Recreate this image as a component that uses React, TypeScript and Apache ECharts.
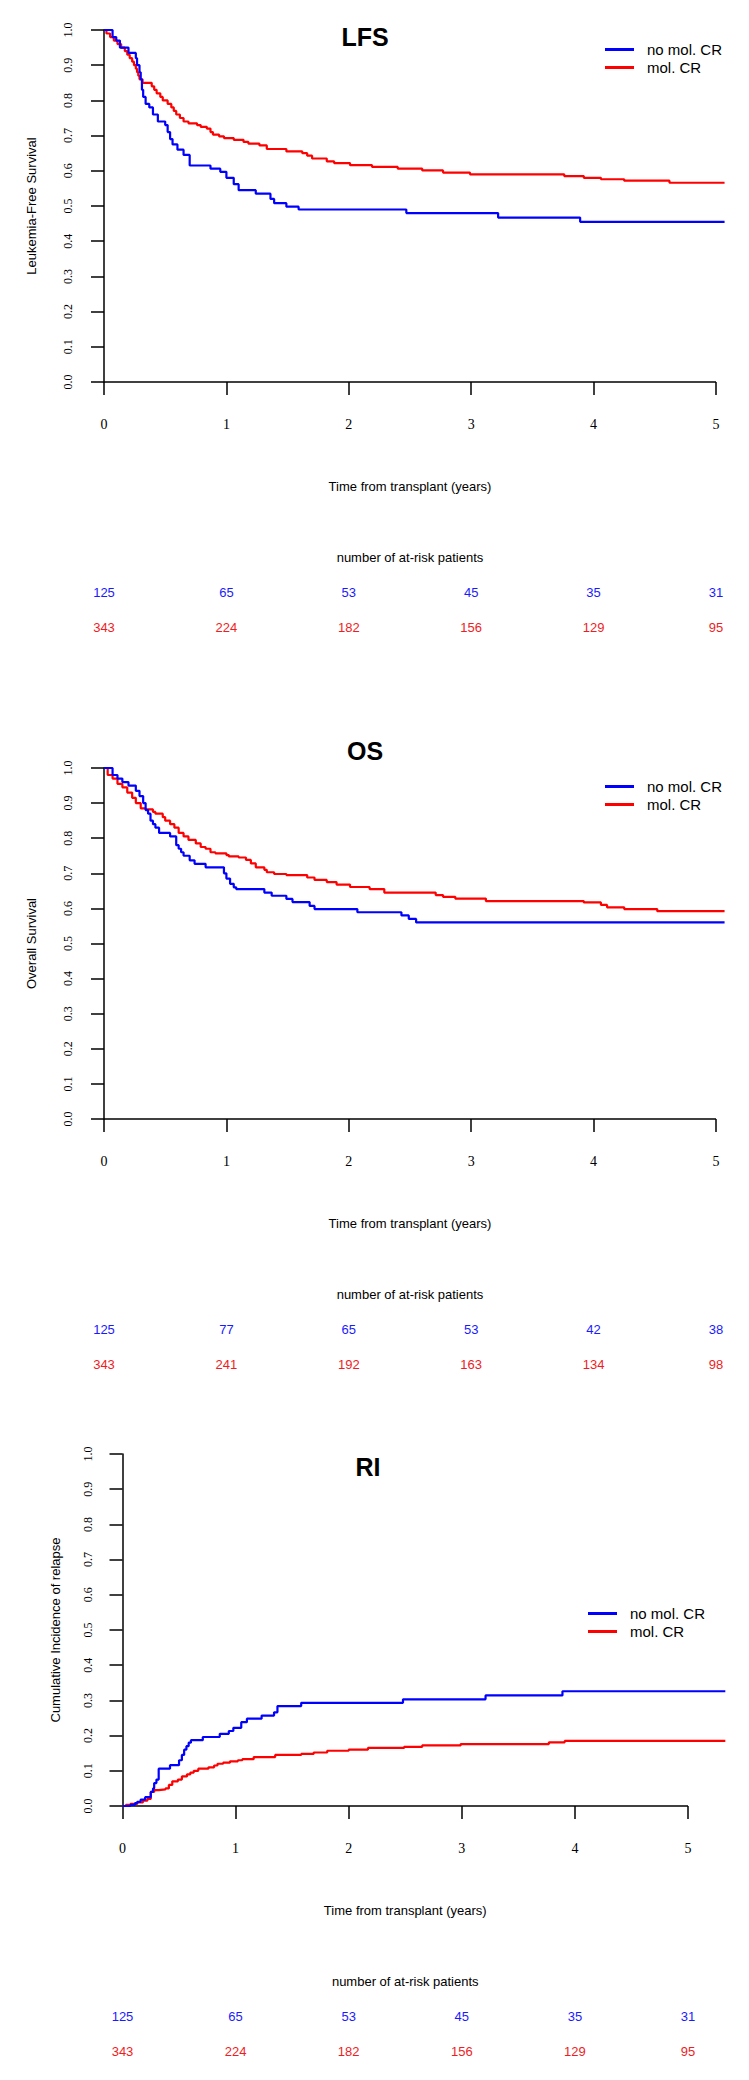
import React, { useEffect, useRef } from "react";
import * as echarts from "echarts";

// ---------- data ----------
const years = [0, 1, 2, 3, 4, 5];
const seriesNames = ["no mol. CR", "mol. CR"];
const panelTitles = ["LFS", "OS", "RI"];
const yTitles = ["Leukemia-Free Survival", "Overall Survival", "Cumulative Incidence of relapse"];
const xTitle = "Time from transplant (years)";
const riskTitle = "number of at-risk patients";
const followUpEnd = [5.07, 5.07, 5.33];

const lfsNoMol = [[0,1],[0.07,0.98],[0.1,0.97],[0.13,0.95],[0.2,0.935],[0.26,0.92],[0.27,0.9],[0.29,0.88],[0.3,0.86],[0.31,0.83],[0.32,0.81],[0.34,0.79],[0.37,0.78],[0.4,0.76],[0.44,0.74],[0.5,0.73],[0.52,0.71],[0.54,0.69],[0.56,0.675],[0.6,0.66],[0.65,0.645],[0.7,0.615],[0.87,0.606],[0.95,0.597],[1.0,0.58],[1.06,0.562],[1.1,0.545],[1.24,0.535],[1.36,0.52],[1.39,0.508],[1.49,0.498],[1.59,0.49],[2.47,0.48],[3.22,0.467],[3.89,0.455],[5.07,0.455]];
const lfsMol = [[0,1],[0.02,0.99],[0.05,0.98],[0.08,0.97],[0.11,0.96],[0.14,0.95],[0.17,0.94],[0.19,0.93],[0.21,0.92],[0.23,0.91],[0.245,0.9],[0.26,0.89],[0.27,0.88],[0.28,0.87],[0.29,0.86],[0.315,0.85],[0.39,0.84],[0.41,0.83],[0.43,0.82],[0.46,0.81],[0.48,0.8],[0.52,0.79],[0.55,0.78],[0.57,0.77],[0.59,0.76],[0.62,0.75],[0.65,0.74],[0.69,0.735],[0.76,0.73],[0.79,0.725],[0.84,0.72],[0.87,0.71],[0.89,0.703],[0.94,0.698],[0.98,0.693],[1.06,0.688],[1.14,0.682],[1.18,0.677],[1.27,0.672],[1.33,0.662],[1.49,0.655],[1.62,0.65],[1.66,0.643],[1.7,0.635],[1.82,0.627],[1.88,0.622],[2.01,0.616],[2.19,0.611],[2.4,0.606],[2.6,0.601],[2.77,0.595],[2.99,0.59],[3.76,0.585],[3.92,0.58],[4.06,0.576],[4.25,0.572],[4.62,0.566],[5.07,0.566]];

const osNoMol = [[0,1],[0.07,0.98],[0.11,0.97],[0.15,0.96],[0.2,0.95],[0.26,0.935],[0.29,0.92],[0.32,0.9],[0.34,0.88],[0.36,0.87],[0.38,0.85],[0.4,0.84],[0.42,0.83],[0.45,0.815],[0.54,0.805],[0.59,0.78],[0.61,0.77],[0.63,0.76],[0.65,0.75],[0.7,0.737],[0.74,0.727],[0.83,0.717],[0.98,0.7],[1.0,0.685],[1.03,0.67],[1.06,0.66],[1.08,0.655],[1.31,0.645],[1.37,0.636],[1.49,0.627],[1.54,0.618],[1.68,0.607],[1.72,0.598],[2.07,0.589],[2.43,0.58],[2.49,0.57],[2.55,0.56],[5.07,0.56]];
const osMol = [[0,1],[0.03,0.98],[0.07,0.97],[0.11,0.955],[0.15,0.945],[0.19,0.93],[0.23,0.915],[0.26,0.9],[0.3,0.885],[0.34,0.882],[0.4,0.875],[0.42,0.87],[0.48,0.86],[0.5,0.85],[0.54,0.84],[0.575,0.83],[0.61,0.815],[0.65,0.805],[0.69,0.795],[0.75,0.785],[0.79,0.775],[0.83,0.77],[0.87,0.76],[0.91,0.757],[1.0,0.752],[1.02,0.748],[1.1,0.745],[1.16,0.738],[1.2,0.728],[1.24,0.717],[1.31,0.71],[1.33,0.703],[1.39,0.698],[1.49,0.695],[1.66,0.688],[1.72,0.681],[1.82,0.675],[1.9,0.668],[2.01,0.661],[2.17,0.655],[2.29,0.645],[2.71,0.638],[2.77,0.633],[2.87,0.628],[3.12,0.621],[3.92,0.617],[4.06,0.61],[4.11,0.603],[4.25,0.598],[4.52,0.592],[5.07,0.592]];

const riNoMol = [[0,0],[0.07,0.003],[0.11,0.008],[0.13,0.012],[0.16,0.018],[0.2,0.025],[0.25,0.04],[0.27,0.05],[0.28,0.065],[0.3,0.075],[0.32,0.106],[0.42,0.116],[0.5,0.13],[0.525,0.145],[0.545,0.16],[0.565,0.17],[0.585,0.18],[0.605,0.187],[0.71,0.196],[0.86,0.205],[0.94,0.213],[0.98,0.222],[1.05,0.238],[1.1,0.248],[1.23,0.257],[1.34,0.266],[1.37,0.284],[1.58,0.293],[2.48,0.303],[3.21,0.314],[3.89,0.326],[5.33,0.326]];
const riMol = [[0,0],[0.03,0.003],[0.07,0.006],[0.13,0.01],[0.18,0.015],[0.22,0.02],[0.25,0.04],[0.28,0.045],[0.32,0.047],[0.38,0.05],[0.41,0.06],[0.44,0.07],[0.49,0.075],[0.525,0.084],[0.57,0.09],[0.6,0.095],[0.63,0.1],[0.67,0.106],[0.76,0.11],[0.81,0.115],[0.84,0.12],[0.89,0.123],[0.95,0.127],[1.02,0.13],[1.06,0.133],[1.16,0.139],[1.35,0.145],[1.58,0.148],[1.69,0.152],[1.81,0.157],[2.0,0.16],[2.17,0.165],[2.49,0.168],[2.65,0.172],[2.99,0.176],[3.77,0.181],[3.91,0.185],[5.33,0.185]];

const lfsRiskNoMol = [125, 65, 53, 45, 35, 31];
const lfsRiskMol = [343, 224, 182, 156, 129, 95];
const osRiskNoMol = [125, 77, 65, 53, 42, 38];
const osRiskMol = [343, 241, 192, 163, 134, 98];
const riRiskNoMol = [125, 65, 53, 45, 35, 31];
const riRiskMol = [343, 224, 182, 156, 129, 95];

// ---------- styling / layout ----------
const BLUE = "#0000ff";
const RED = "#ff0000";
const BLUE_TXT = "#1a1aff";
const RED_TXT = "#ee1c24";
const SANS = "'Liberation Sans', Arial, Helvetica, sans-serif";
const SERIF = "'Liberation Serif', 'Times New Roman', serif";

// pxYear: pixels per year on the x axis
const layouts = [
  { left: 104, top: 30, pxYear: 122.4, height: 352, titleX: 365, titleY: 38, legX: 605, legY: 42, yLabMargin: 30, yNameGap: 66 },
  { left: 104, top: 768, pxYear: 122.4, height: 351, titleX: 365, titleY: 752, legX: 605, legY: 779, yLabMargin: 30, yNameGap: 66 },
  { left: 122.5, top: 1454, pxYear: 113.1, height: 352, titleX: 368, titleY: 1468, legX: 588, legY: 1606, yLabMargin: 29, yNameGap: 61 },
];

const curves = [
  [lfsNoMol, lfsMol],
  [osNoMol, osMol],
  [riNoMol, riMol],
];
const risks = [
  [lfsRiskNoMol, lfsRiskMol],
  [osRiskNoMol, osRiskMol],
  [riRiskNoMol, riRiskMol],
];

function buildOption() {
  const grid: any[] = [];
  const xAxis: any[] = [];
  const yAxis: any[] = [];
  const series: any[] = [];
  const title: any[] = [];
  const legend: any[] = [];
  const graphic: any[] = [];

  layouts.forEach((L, i) => {
    const xMax = followUpEnd[i];
    const width = L.pxYear * xMax;
    grid.push({ left: L.left, top: L.top, width, height: L.height, containLabel: false });

    const axisBase = { gridIndex: i, type: "value", min: 0, max: xMax, interval: 1, splitLine: { show: false } };
    xAxis.push({
      ...axisBase,
      position: "bottom",
      axisLine: { show: false },
      axisTick: { show: true, inside: false, length: 13, customValues: years, lineStyle: { color: "#000", width: 1.5 } },
      axisLabel: { margin: 35, customValues: years, fontFamily: SERIF, fontSize: 14, color: "#000", formatter: (v: number) => String(Math.round(v)) },
      name: xTitle,
      nameLocation: "middle",
      nameGap: 98,
      nameTextStyle: { fontFamily: SANS, fontSize: 13, color: "#000", padding: [0, 0, 0, (5 - xMax) * L.pxYear] },
    });
    [0, 1].forEach((k) => {
      const counts = risks[i][k];
      xAxis.push({
        ...axisBase,
        position: "bottom",
        offset: k === 0 ? 204 : 239,
        axisLine: { show: false },
        axisTick: { show: false },
        axisLabel: {
          margin: 0,
          customValues: years,
          fontFamily: SANS,
          fontSize: 13,
          color: k === 0 ? BLUE_TXT : RED_TXT,
          formatter: (v: number) => String(counts[years.indexOf(Math.round(v))]),
        },
      });
    });

    yAxis.push({
      gridIndex: i,
      type: "value",
      min: 0,
      max: 1,
      interval: 0.1,
      splitLine: { show: false },
      axisLine: { show: true, lineStyle: { color: "#000", width: 1.5 } },
      axisTick: { show: true, inside: false, length: 13, lineStyle: { color: "#000", width: 1.5 } },
      axisLabel: { rotate: 90, margin: L.yLabMargin, fontFamily: SERIF, fontSize: 12, color: "#000", formatter: (v: number) => v.toFixed(1) },
      name: yTitles[i],
      nameLocation: "middle",
      nameRotate: 90,
      nameGap: L.yNameGap,
      nameTextStyle: { fontFamily: SANS, fontSize: 13, color: "#000" },
    });

    [0, 1].forEach((k) => {
      const s: any = {
        name: seriesNames[k],
        type: "line",
        xAxisIndex: i * 3,
        yAxisIndex: i,
        step: "end",
        showSymbol: false,
        symbol: "none",
        clip: false,
        data: curves[i][k],
        color: k === 0 ? BLUE : RED,
        lineStyle: { width: 2.2, color: k === 0 ? BLUE : RED },
        z: k === 0 ? 3 : 2,
      };
      if (k === 1) {
        // x axis line, drawn from the first to the last labelled year (R style)
        s.markLine = {
          silent: true,
          symbol: ["none", "none"],
          label: { show: false },
          lineStyle: { color: "#000", width: 1.5, type: "solid" },
          data: [[{ coord: [years[0], 0] }, { coord: [years[years.length - 1], 0] }]],
          z: 1,
        };
      }
      series.push(s);
    });

    title.push({
      text: panelTitles[i],
      left: L.titleX,
      top: L.titleY - 14,
      textAlign: "center",
      padding: 0,
      textStyle: { fontFamily: SANS, fontSize: 25, fontWeight: "bold", color: "#000" },
    });

    legend.push({
      data: seriesNames,
      orient: "vertical",
      left: L.legX,
      top: L.legY,
      padding: 0,
      icon: "rect",
      itemWidth: 29,
      itemHeight: 3,
      itemGap: 3,
      selectedMode: false,
      textStyle: { fontFamily: SANS, fontSize: 15, color: "#000", lineHeight: 15, padding: [0, 0, 0, 8] },
    });

    graphic.push({
      type: "text",
      x: L.left + (L.pxYear * 5) / 2,
      y: L.top + L.height + 175,
      style: { text: riskTitle, fontFamily: SANS, fontSize: 13, fill: "#000", textAlign: "center", textVerticalAlign: "middle" },
    });
  });

  return { animation: false, backgroundColor: "#fff", grid, xAxis, yAxis, series, title, legend, graphic };
}

export default function App() {
  const ref = useRef<HTMLDivElement>(null);
  useEffect(() => {
    if (!ref.current) return;
    const chart = echarts.init(ref.current, undefined, { renderer: "svg" });
    chart.setOption(buildOption() as any);
    return () => chart.dispose();
  }, []);
  return <div ref={ref} style={{ position: "absolute", left: 0, top: 0, width: 749, height: 2080, background: "#fff" }} />;
}
